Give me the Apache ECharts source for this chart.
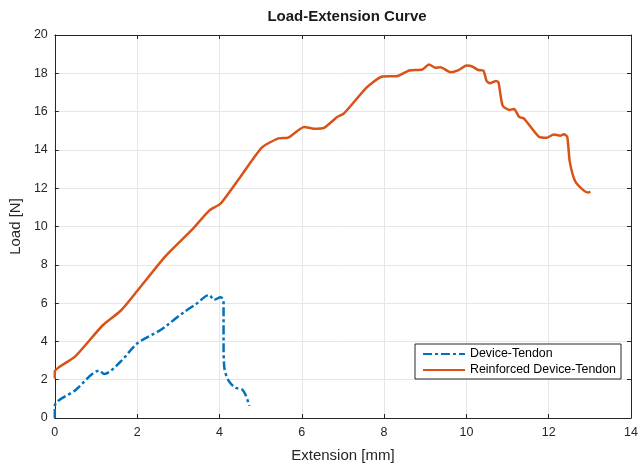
<!DOCTYPE html>
<html><head><meta charset="utf-8">
<script src="https://cdn.jsdelivr.net/npm/echarts@6/dist/echarts.min.js"></script>
<style>html,body{margin:0;padding:0;background:#fff}#c{width:641px;height:468px}</style>
</head><body><div id="c"></div>
<script>
const deviceX = [0,0,0.5,1.085,1.2,1.6,2.0,2.56,2.72,3.12,3.43,3.75,3.87,4.03,4.1,4.1,4.12,4.23,4.39,4.55,4.63,4.73];
const deviceY = [0,0.63,1.45,2.47,2.3,2.95,3.89,4.58,4.83,5.5,5.95,6.43,6.17,6.31,6.12,4.0,2.6,1.92,1.58,1.49,1.23,0.63];
const reinfX = [0,0,0.49,1.16,1.6,2.0,2.68,3.36,3.75,4.03,4.55,5.03,5.43,5.67,6.06,6.3,6.54,6.86,7.02,7.58,7.94,8.33,8.61,8.93,9.09,9.25,9.37,9.61,9.81,10.0,10.13,10.29,10.41,10.49,10.57,10.72,10.78,10.88,11.04,11.16,11.28,11.4,11.76,11.96,12.12,12.28,12.37,12.45,12.51,12.64,12.84,12.96,13.01];
const reinfY = [2.06,2.43,3.2,4.83,5.6,6.63,8.43,9.89,10.83,11.2,12.72,14.12,14.6,14.64,15.2,15.1,15.15,15.72,15.89,17.26,17.82,17.86,18.15,18.2,18.46,18.29,18.32,18.06,18.17,18.41,18.37,18.17,18.15,17.6,17.48,17.6,17.52,16.31,16.09,16.14,15.72,15.63,14.69,14.64,14.81,14.74,14.82,14.69,13.4,12.38,11.9,11.77,11.83];
const xTicks = {min:0,max:14,interval:2};
const yTicks = {min:0,max:20,interval:2};
const seriesNames = ['Device-Tendon','Reinforced Device-Tendon'];

const zip = (a,b)=>a.map((v,i)=>[v,b[i]]);
const font = 'Liberation Sans, Arial, sans-serif';
const axisCol = '#262626';
const chart = echarts.init(document.getElementById('c'));
const baseAxis = (extra)=>Object.assign({
  type:'value',
  axisLine:{show:true,onZero:false,lineStyle:{color:axisCol,width:1}},
  axisTick:{show:true,inside:true,length:4,lineStyle:{color:axisCol}},
  axisLabel:{color:axisCol,fontFamily:font,fontSize:12.5},
  splitLine:{show:false}
},extra);
chart.setOption({
  animation:false,
  title:{text:'Load-Extension Curve',left:342,top:4,textAlign:'center',
    textStyle:{fontFamily:font,fontSize:15,fontWeight:'bold',color:'#1a1a1a'}},
  grid:{left:50,right:7,top:35,bottom:44,containLabel:false},
  legend:{orient:'vertical',left:415,top:344,
    backgroundColor:'#fff',borderColor:axisCol,borderWidth:1,borderRadius:0,
    padding:[4,5,3,7],itemGap:4,itemWidth:42,itemHeight:13,
    itemStyle:{opacity:0},
    textStyle:{fontFamily:font,fontSize:12.4,color:'#000'},
    data:seriesNames},
  xAxis:[
    baseAxis(Object.assign({position:'bottom',name:'Extension [mm]',nameLocation:'middle',nameGap:30,
      nameTextStyle:{fontFamily:font,fontSize:15,color:axisCol},
      axisLabel:{color:axisCol,fontFamily:font,fontSize:12.5,margin:8},
      splitLine:{show:true,lineStyle:{color:'#e6e6e6',width:1}}},xTicks)),
    baseAxis(Object.assign({position:'top',axisLabel:{show:false}},xTicks))
  ],
  yAxis:[
    baseAxis(Object.assign({position:'left',name:'Load [N]',nameLocation:'middle',nameGap:28,
      nameTextStyle:{fontFamily:font,fontSize:15,color:axisCol},
      axisLabel:{color:axisCol,fontFamily:font,fontSize:12.5,margin:7},
      splitLine:{show:true,lineStyle:{color:'#e6e6e6',width:1}}},yTicks)),
    baseAxis(Object.assign({position:'right',axisLabel:{show:false}},yTicks))
  ],
  series:[
    {name:seriesNames[0],type:'line',data:zip(deviceX,deviceY),showSymbol:false,symbol:'none',smooth:0.3,
      lineStyle:{color:'#0072BD',width:2.5,type:[9,3,3,3]},itemStyle:{color:'#0072BD'},z:3},
    {name:seriesNames[1],type:'line',data:zip(reinfX,reinfY),showSymbol:false,symbol:'none',smooth:0.2,
      lineStyle:{color:'#D95319',width:2.5},itemStyle:{color:'#D95319'},z:2}
  ]
});
</script></body></html>
